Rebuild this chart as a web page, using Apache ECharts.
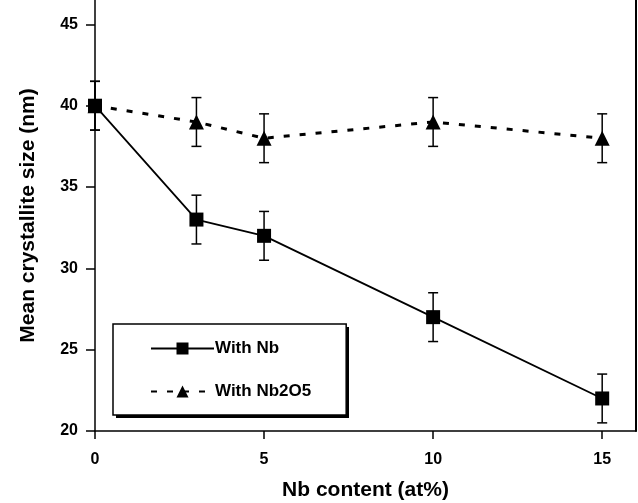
<!DOCTYPE html>
<html>
<head>
<meta charset="utf-8">
<script src="https://cdn.jsdelivr.net/npm/echarts@6/dist/echarts.min.js"></script>
<style>
  html, body { margin: 0; padding: 0; background: #fff; }
  #chart { width: 638px; height: 503px; }
</style>
</head>
<body>
<div id="chart"></div>
<script>
const nbContent = [0, 3, 5, 10, 15]
const sizeNb = [40, 33, 32, 27, 22]
const sizeNb2O5 = [40, 39, 38, 39, 38]
const errNb = [1.5, 1.5, 1.5, 1.5, 1.5]
const errNb2O5 = [1.5, 1.5, 1.5, 1.5, 1.5]
const xTicks = [0, 5, 10, 15]
const yTicks = [20, 25, 30, 35, 40, 45]

const font = '"Liberation Sans", Arial, sans-serif'

// error bars drawn as custom series: [x, low, high]
function errorSeries(name, ys, errs) {
  return {
    name: name + ' err',
    type: 'custom',
    z: 1,
    silent: true,
    data: nbContent.map((x, i) => [x, ys[i] - errs[i], ys[i] + errs[i]]),
    renderItem: (params, api) => {
      const lo = api.coord([api.value(0), api.value(1)])
      const hi = api.coord([api.value(0), api.value(2)])
      const w = 5
      const style = { stroke: '#000', lineWidth: 1.5 }
      return {
        type: 'group',
        children: [
          { type: 'line', shape: { x1: lo[0], y1: lo[1], x2: hi[0], y2: hi[1] }, style },
          { type: 'line', shape: { x1: lo[0] - w, y1: lo[1], x2: lo[0] + w, y2: lo[1] }, style },
          { type: 'line', shape: { x1: hi[0] - w, y1: hi[1], x2: hi[0] + w, y2: hi[1] }, style },
        ],
      }
    },
  }
}

const chart = echarts.init(document.getElementById('chart'))
chart.setOption({
  animation: false,
  textStyle: { fontFamily: font },
  grid: { left: 95, right: 2, top: 0, bottom: 72, outerBoundsMode: 'none', containLabel: false },
  // legend box shadow
  graphic: [{
    type: 'rect',
    z: 90,
    shape: { x: 116, y: 327, width: 233, height: 91 },
    style: { fill: '#000' },
  }],
  legend: {
    orient: 'vertical',
    left: 113,
    top: 324,
    z: 100,
    padding: [16, 35, 15, 37],
    itemGap: 26,
    itemWidth: 63,
    itemHeight: 15,
    backgroundColor: '#fff',
    borderColor: '#000',
    borderWidth: 1.5,
    textStyle: { fontFamily: font, fontWeight: 'bold', fontSize: 17, color: '#000', padding: [0, 0, 0, -4] },
    data: ['With Nb', 'With Nb2O5'],
  },
  xAxis: {
    type: 'value',
    min: 0,
    max: 16,
    interval: 5,
    name: 'Nb content (at%)',
    nameLocation: 'middle',
    nameGap: 59,
    nameMoveOverlap: false,
    nameTextStyle: { fontFamily: font, fontWeight: 'bold', fontSize: 21, color: '#000', verticalAlign: 'middle' },
    axisLine: { lineStyle: { color: '#000', width: 1.5 } },
    axisTick: { show: true, length: 8, customValues: xTicks, lineStyle: { color: '#000', width: 1.5 } },
    axisLabel: {
      fontFamily: font, fontWeight: 'bold', fontSize: 16, color: '#000', margin: 21,
      customValues: xTicks,
    },
    splitLine: { show: false },
  },
  yAxis: [
    {
      type: 'value',
      min: 20,
      max: 46.5,
      interval: 5,
      name: 'Mean crystallite size (nm)',
      nameLocation: 'middle',
      nameGap: 56,
      nameMoveOverlap: false,
      nameTextStyle: { fontFamily: font, fontWeight: 'bold', fontSize: 21, color: '#000' },
      axisLine: { show: true, lineStyle: { color: '#000', width: 1.5 } },
      axisTick: { show: true, length: 9, customValues: yTicks, lineStyle: { color: '#000', width: 1.5 } },
      axisLabel: {
        fontFamily: font, fontWeight: 'bold', fontSize: 16, color: '#000', margin: 17,
        customValues: yTicks,
      },
      splitLine: { show: false },
    },
    {
      type: 'value',
      position: 'right',
      min: 20,
      max: 46.5,
      axisLine: { show: true, lineStyle: { color: '#000', width: 2 } },
      axisTick: { show: false },
      axisLabel: { show: false },
      splitLine: { show: false },
    },
  ],
  series: [
    errorSeries('Nb', sizeNb, errNb),
    errorSeries('Nb2O5', sizeNb2O5, errNb2O5),
    {
      name: 'With Nb2O5',
      type: 'line',
      z: 3,
      data: nbContent.map((x, i) => [x, sizeNb2O5[i]]),
      symbol: 'triangle',
      symbolSize: 15,
      itemStyle: { color: '#000' },
      lineStyle: { color: '#000', width: 3, type: [6, 10] },
    },
    {
      name: 'With Nb',
      type: 'line',
      z: 4,
      data: nbContent.map((x, i) => [x, sizeNb[i]]),
      symbol: 'rect',
      symbolSize: 14,
      itemStyle: { color: '#000' },
      lineStyle: { color: '#000', width: 1.8 },
    },
  ],
})
</script>
</body>
</html>
